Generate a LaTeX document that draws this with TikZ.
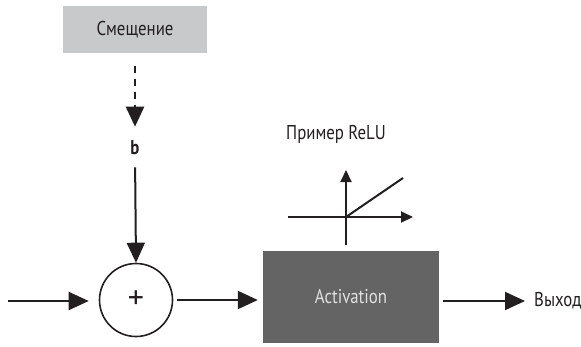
\documentclass[tikz,border=0pt]{standalone}
\usepackage{fontspec}
\setmainfont{PT Sans}[FakeStretch=0.84]
\newfontfamily\plainsans{PT Sans}
\usetikzlibrary{arrows.meta}
\definecolor{biasgray}{HTML}{C8C9CB}
\definecolor{actgray}{HTML}{646464}
\definecolor{ink}{HTML}{231F20}
\tikzset{
  x=1pt, y=-1pt,
  flow/.style={draw=ink, line width=2pt, -{Triangle[length=20pt,width=18pt]}},
  axis/.style={draw=ink, line width=2pt, -{Triangle[length=12pt,width=11pt]}},
  label/.style={text=ink, font=\fontsize{20}{24}\selectfont, inner sep=0pt}
}
\begin{document}
\begin{tikzpicture}
\useasboundingbox (0,0) rectangle (581,346);
% bias block and its dashed feed
\node[fill=biasgray, minimum width=144pt, minimum height=47pt, inner sep=0pt,
      label] (bias) at (135,29.5) {Смещение};
\node[label, font=\bfseries\fontsize{20}{24}\selectfont] (b) at (135,148) {b};
\draw[flow, dashed, dash pattern=on 7pt off 6pt, line width=2.5pt,
      shorten <=13pt, shorten >=14pt] (bias.south) -- (b.north);
% summation node
\node[circle, draw=ink, line width=1.6pt, minimum size=73pt, inner sep=0pt,
      font=\plainsans\fontsize{32}{36}\selectfont, text=ink] (sum) at (136,300) {+};
\draw[flow, shorten <=12pt] (b.south) -- (sum.north);
\coordinate (in) at (8,301);
\draw[flow, shorten >=10pt] (in) -- (in -| sum.west);
% activation block
\node[fill=actgray, minimum width=176pt, minimum height=92pt, inner sep=0pt,
      text=white!88!black, font=\fontsize{20}{24}\selectfont] (act) at (351,297) {Activation};
\draw[flow, shorten <=4pt, shorten >=5pt] (sum.east) -- (act.west |- sum.east);
% output
\node[label, anchor=west] (out) at (534,301) {Выход};
\draw[flow, shorten <=4pt, shorten >=9pt] (act.east |- out.west) -- (out.west);
% ReLU sketch
\node[label] (relu) at (336,134) {Пример ReLU};
\coordinate (o) at (346,217);
\coordinate (xl) at (288,217);
\coordinate (xr) at (413,217);
\coordinate (yb) at (346,245);
\coordinate (yt) at (346,170);
\coordinate (rr) at (403,178);
\draw[axis] (xl) -- (xr);
\draw[axis] (yb) -- (yt);
\draw[draw=ink, line width=2pt] (o) -- (rr);
\end{tikzpicture}
\end{document}
